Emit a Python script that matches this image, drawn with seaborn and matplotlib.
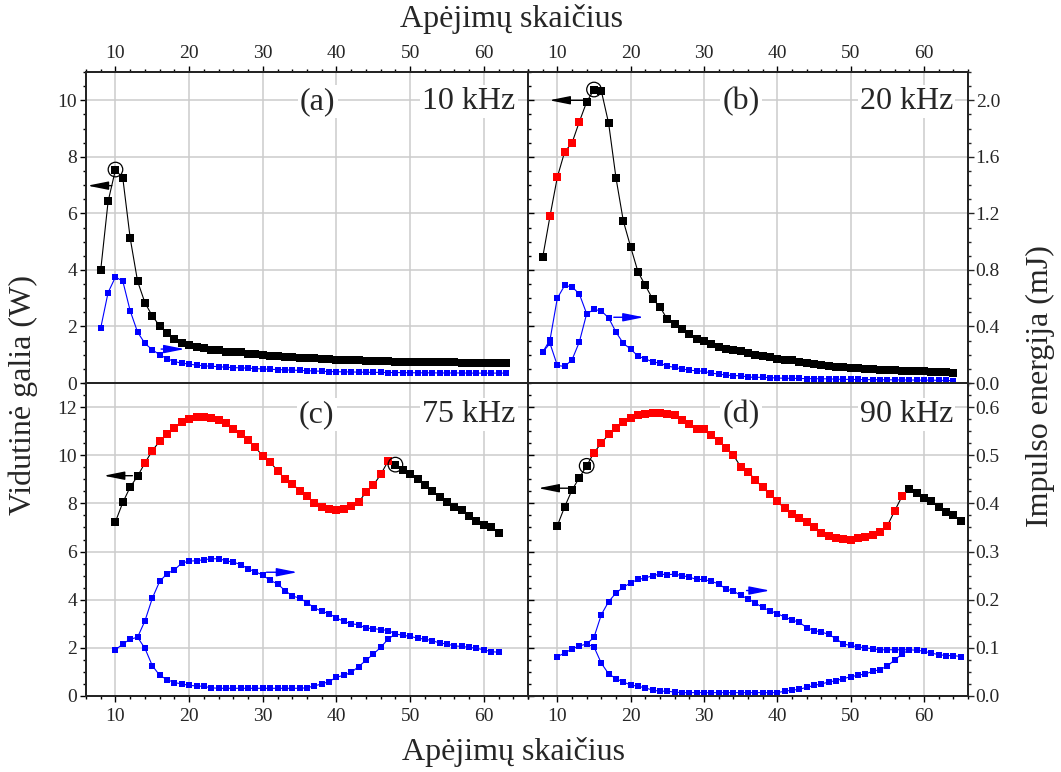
import numpy as np
import matplotlib
matplotlib.use("Agg")
import matplotlib.pyplot as plt
from matplotlib.ticker import MultipleLocator, FormatStrFormatter
import seaborn as sns

sns.set_style("ticks")
plt.rcParams["font.family"] = ["Liberation Serif", "DejaVu Serif"]

# ---------------- data ----------------
# (a) 10 kHz
a_x = np.arange(8, 64)
a_power = [4.00, 6.42, 7.55, 7.24, 5.12, 3.60, 2.84, 2.37, 2.02, 1.76,
           1.56, 1.43, 1.35, 1.29, 1.24, 1.17, 1.16, 1.11, 1.09, 1.08,
           1.04, 1.04, 0.99, 0.97, 0.95, 0.93, 0.92, 0.90, 0.88, 0.87,
           0.86, 0.84, 0.83, 0.82, 0.81, 0.80, 0.79, 0.78, 0.77, 0.77,
           0.76, 0.76, 0.75, 0.75, 0.74, 0.74, 0.73, 0.73, 0.73, 0.72,
           0.71, 0.71, 0.70, 0.70, 0.70, 0.70]
a_energy = [0.39, 0.64, 0.75, 0.72, 0.51, 0.36, 0.28, 0.235, 0.200, 0.172,
            0.152, 0.140, 0.134, 0.126, 0.122, 0.118, 0.116, 0.111, 0.109, 0.107,
            0.105, 0.102, 0.099, 0.097, 0.095, 0.093, 0.091, 0.089, 0.087, 0.085,
            0.083, 0.081, 0.080, 0.079, 0.078, 0.077, 0.076, 0.075, 0.075, 0.074,
            0.074, 0.073, 0.073, 0.072, 0.072, 0.072, 0.071, 0.071, 0.071, 0.071,
            0.070, 0.070, 0.070, 0.070, 0.070, 0.070]
a_red = []
a_peak = 10

# (b) 20 kHz
b_x = np.arange(8, 65)
b_power = [4.44, 5.90, 7.28, 8.18, 8.49, 9.24, 9.94, 10.38, 10.33, 9.18,
           7.25, 5.73, 4.81, 3.93, 3.45, 2.97, 2.69, 2.25, 2.09, 1.90,
           1.73, 1.57, 1.47, 1.37, 1.29, 1.22, 1.17, 1.13, 1.06, 0.99,
           0.96, 0.92, 0.86, 0.82, 0.80, 0.74, 0.69, 0.66, 0.63, 0.59,
           0.56, 0.55, 0.52, 0.52, 0.49, 0.49, 0.47, 0.46, 0.45, 0.42,
           0.42, 0.41, 0.41, 0.40, 0.40, 0.39, 0.36]
b_energy = [0.218, 0.305, 0.600, 0.690, 0.680, 0.630, 0.490, 0.520, 0.510, 0.460,
            0.360, 0.280, 0.240, 0.190, 0.170, 0.150, 0.140, 0.120, 0.110, 0.100,
            0.090, 0.087, 0.082, 0.070, 0.063, 0.056, 0.052, 0.052, 0.042, 0.040,
            0.040, 0.038, 0.035, 0.034, 0.033, 0.032, 0.031, 0.030, 0.030, 0.029,
            0.027, 0.026, 0.025, 0.025, 0.024, 0.024, 0.023, 0.023, 0.022, 0.022,
            0.021, 0.021, 0.020, 0.020, 0.019, 0.018, 0.017]
b_x2 = np.arange(8, 15)
b_energy2 = [0.218, 0.280, 0.124, 0.117, 0.164, 0.290, 0.490]
b_red = list(range(9, 14))
b_peak = 15

# (c) 75 kHz
c_x = np.arange(10, 63)
c_power = [7.24, 8.04, 8.68, 9.13, 9.68, 10.19, 10.58, 10.89, 11.14, 11.37,
           11.51, 11.60, 11.60, 11.53, 11.46, 11.32, 11.10, 10.89, 10.65, 10.33,
           9.96, 9.71, 9.36, 9.02, 8.81, 8.53, 8.29, 8.02, 7.85, 7.77,
           7.71, 7.78, 7.88, 8.04, 8.47, 8.75, 9.20, 9.75, 9.61, 9.38,
           9.22, 9.02, 8.75, 8.53, 8.25, 8.06, 7.84, 7.74, 7.49, 7.25,
           7.09, 7.00, 6.77]
c_energy = [0.096, 0.108, 0.118, 0.122, 0.156, 0.203, 0.238, 0.254, 0.262, 0.276,
            0.280, 0.281, 0.283, 0.285, 0.285, 0.281, 0.278, 0.273, 0.264, 0.258,
            0.251, 0.240, 0.233, 0.219, 0.208, 0.203, 0.194, 0.183, 0.176, 0.171,
            0.162, 0.155, 0.150, 0.148, 0.141, 0.140, 0.138, 0.136, 0.129, 0.126,
            0.124, 0.120, 0.118, 0.115, 0.110, 0.108, 0.104, 0.103, 0.101, 0.099,
            0.096, 0.092, 0.091]
c_x2 = np.arange(13, 49)
c_energy2 = [0.122, 0.099, 0.063, 0.043, 0.034, 0.028, 0.025, 0.022, 0.021, 0.020,
             0.017, 0.016, 0.016, 0.016, 0.016, 0.016, 0.016, 0.016, 0.016, 0.016,
             0.016, 0.016, 0.016, 0.017, 0.021, 0.025, 0.030, 0.039, 0.043, 0.049,
             0.061, 0.074, 0.087, 0.101, 0.118, 0.129]
c_red = list(range(14, 48))
c_peak = 48

# (d) 90 kHz
d_x = np.arange(10, 66)
d_power = [7.07, 7.86, 8.55, 9.07, 9.56, 10.11, 10.50, 10.87, 11.15, 11.38,
           11.53, 11.66, 11.70, 11.77, 11.77, 11.70, 11.69, 11.46, 11.28, 11.10,
           11.08, 10.84, 10.59, 10.32, 10.01, 9.52, 9.31, 8.98, 8.66, 8.38,
           8.08, 7.79, 7.56, 7.38, 7.21, 7.00, 6.75, 6.66, 6.56, 6.52,
           6.48, 6.56, 6.59, 6.70, 6.80, 7.07, 7.69, 8.29, 8.59, 8.45,
           8.22, 8.11, 7.86, 7.65, 7.53, 7.25]
d_energy = [0.082, 0.089, 0.098, 0.104, 0.108, 0.122, 0.169, 0.196, 0.214, 0.226,
            0.235, 0.242, 0.245, 0.250, 0.253, 0.252, 0.253, 0.250, 0.247, 0.242,
            0.242, 0.238, 0.233, 0.222, 0.218, 0.209, 0.202, 0.193, 0.184, 0.177,
            0.171, 0.164, 0.158, 0.153, 0.142, 0.136, 0.133, 0.128, 0.119, 0.108,
            0.105, 0.102, 0.100, 0.098, 0.096, 0.096, 0.096, 0.096, 0.096, 0.095,
            0.093, 0.089, 0.086, 0.084, 0.084, 0.082]
d_x2 = np.arange(14, 59)
d_energy2 = [0.108, 0.102, 0.068, 0.046, 0.036, 0.029, 0.023, 0.020, 0.017, 0.012,
             0.010, 0.010, 0.008, 0.007, 0.007, 0.007, 0.007, 0.007, 0.007, 0.007,
             0.007, 0.007, 0.007, 0.007, 0.007, 0.007, 0.007, 0.010, 0.012, 0.014,
             0.018, 0.022, 0.025, 0.029, 0.032, 0.036, 0.040, 0.043, 0.046, 0.051,
             0.055, 0.062, 0.075, 0.087, 0.096]
d_red = list(range(15, 58))
d_peak = 14

panel_tags = ["(a)", "(b)", "(c)", "(d)"]
panel_freqs = ["10 kHz", "20 kHz", "75 kHz", "90 kHz"]
x_label = "Apėjimų skaičius"
y_left_label = "Vidutinė galia (W)"
y_right_label = "Impulso energija (mJ)"

# ---------------- layout ----------------
W, H = 1061, 772
fig = plt.figure(figsize=(W / 100, H / 100), dpi=100)
xl, xm, xr = 86 / W, 528 / W, 968 / W
yt, ym, yb = 1 - 72 / H, 1 - 383 / H, 1 - 696 / H

ax_a = fig.add_axes([xl, ym, xm - xl, yt - ym])
ax_b = fig.add_axes([xm, ym, xr - xm, yt - ym])
ax_c = fig.add_axes([xl, yb, xm - xl, ym - yb])
ax_d = fig.add_axes([xm, yb, xr - xm, ym - yb])

BLUE = "#0000ff"
RED = "#ff0000"
GRID = "#cccccc"
TICK_FS = 14


def style_axis(ax, top_row, left_col, ymax, ymajor, yminor):
    ax.set_xlim(6, 66)
    ax.set_ylim(0, ymax)
    ax.xaxis.set_major_locator(MultipleLocator(10))
    ax.xaxis.set_minor_locator(MultipleLocator(2))
    ax.yaxis.set_major_locator(MultipleLocator(ymajor))
    ax.yaxis.set_minor_locator(MultipleLocator(yminor))
    ax.set_axisbelow(True)
    ax.grid(True, which="major", color=GRID, lw=1.1)
    for s in ax.spines.values():
        s.set_linewidth(1.4)
        s.set_color("black")
    ax.tick_params(which="both", width=1.0, color="black", labelsize=TICK_FS)
    ax.tick_params(which="major", length=4.5)
    ax.tick_params(which="minor", length=2.4)
    if top_row:
        ax.tick_params(axis="x", which="both", top=True, labeltop=True,
                       bottom=True, labelbottom=False, direction="out", pad=3)
    else:
        ax.tick_params(axis="x", which="both", bottom=True, labelbottom=True,
                       top=False, labeltop=False, direction="out", pad=4)
    if left_col:
        ax.tick_params(axis="y", which="both", left=True, labelleft=True,
                       right=True, labelright=False, direction="out", pad=2)
    else:
        ax.tick_params(axis="y", which="both", left=True, labelleft=False,
                       right=False, labelright=False, direction="in")
    ax.set_xlabel("")
    ax.set_ylabel("")


style_axis(ax_a, True, True, 11, 2, 0.5)
style_axis(ax_b, True, False, 11, 2, 0.5)
style_axis(ax_c, False, True, 13, 2, 0.5)
style_axis(ax_d, False, False, 13, 2, 0.5)

# energy axes
tw_a, tw_b = ax_a.twinx(), ax_b.twinx()
tw_c, tw_d = ax_c.twinx(), ax_d.twinx()
for tw, ymax, major, minor, show in [(tw_a, 2.2, 0.4, 0.1, False),
                                     (tw_b, 2.2, 0.4, 0.1, True),
                                     (tw_c, 0.65, 0.1, 0.025, False),
                                     (tw_d, 0.65, 0.1, 0.025, True)]:
    tw.set_ylim(0, ymax)
    tw.yaxis.set_major_locator(MultipleLocator(major))
    tw.yaxis.set_minor_locator(MultipleLocator(minor))
    tw.grid(False)
    for s in tw.spines.values():
        s.set_linewidth(1.4)
    if show:
        tw.tick_params(axis="y", which="both", right=True, labelright=True,
                       direction="out", width=1.0, labelsize=TICK_FS, pad=1)
        tw.tick_params(axis="y", which="major", length=4.5)
        tw.tick_params(axis="y", which="minor", length=2.4)
        tw.yaxis.set_major_formatter(FormatStrFormatter("%.1f"))
    else:
        tw.tick_params(axis="y", which="both", right=False, labelright=False)
    tw.set_ylabel("")

panels = [
    (ax_a, tw_a, a_x, a_power, a_energy, None, None, a_red, a_peak),
    (ax_b, tw_b, b_x, b_power, b_energy, b_x2, b_energy2, b_red, b_peak),
    (ax_c, tw_c, c_x, c_power, c_energy, c_x2, c_energy2, c_red, c_peak),
    (ax_d, tw_d, d_x, d_power, d_energy, d_x2, d_energy2, d_red, d_peak),
]

for ax, tw, x, p, e, x2, e2, red, peak in panels:
    sns.lineplot(x=x, y=p, ax=ax, color="black", lw=0.8, marker="s",
                 markersize=5.2, markeredgewidth=0, estimator=None, sort=False,
                 zorder=3)
    if red:
        xr_ = np.array(red)
        pr = np.array(p)[np.isin(x, xr_)]
        sns.scatterplot(x=xr_, y=pr, ax=ax, marker="s", color=RED, s=28,
                        linewidth=0, zorder=4)
    k = list(x).index(peak)
    ax.scatter([peak], [p[k]], s=110, facecolors="none", edgecolors="black",
               linewidths=0.9, zorder=5)
    sns.lineplot(x=x, y=e, ax=tw, color=BLUE, lw=0.8, marker="s",
                 markersize=4.8, markeredgewidth=0, estimator=None, sort=False)
    if x2 is not None:
        sns.lineplot(x=x2, y=e2, ax=tw, color=BLUE, lw=0.8, marker="s",
                     markersize=4.8, markeredgewidth=0, estimator=None,
                     sort=False)
    tw.set_ylabel("")
    ax.set_ylabel("")

# direction arrows: power -> left axis, energy -> right axis
arrow_kw = dict(arrowstyle="-|>,head_length=0.9,head_width=0.18",
                lw=1.0, mutation_scale=14, shrinkA=0, shrinkB=0)
arrows = [
    (ax_a, (9.5, 6.98), (6.2, 6.98), "black"),
    (tw_a, (16.2, 0.24), (19.4, 0.24), BLUE),
    (ax_b, (13.7, 10.0), (8.9, 10.0), "black"),
    (tw_b, (17.7, 0.465), (21.8, 0.465), BLUE),
    (ax_c, (12.3, 9.15), (8.4, 9.15), "black"),
    (tw_c, (30.5, 0.257), (34.7, 0.257), BLUE),
    (ax_d, (11.6, 8.63), (7.4, 8.63), "black"),
    (tw_d, (35.8, 0.219), (39.0, 0.219), BLUE),
]
for ax, tail, head, col in arrows:
    ax.annotate("", xy=head, xytext=tail,
                arrowprops=dict(color=col, **arrow_kw), zorder=6)

# panel tags and repetition rates
tag_pos = [(0.524, 0.905), (0.484, 0.905), (0.522, 0.90), (0.484, 0.90)]
freq_pos = [(0.972, 0.905), (0.966, 0.905), (0.972, 0.90), (0.966, 0.90)]
box = dict(facecolor="white", edgecolor="none", pad=1.5)
for ax, tag, fq, tp, fp in zip([ax_a, ax_b, ax_c, ax_d], panel_tags,
                               panel_freqs, tag_pos, freq_pos):
    ax.text(tp[0], tp[1], tag, transform=ax.transAxes, ha="center",
            va="center", fontsize=23, bbox=box, zorder=7)
    ax.text(fp[0], fp[1], fq, transform=ax.transAxes, ha="right",
            va="center", fontsize=23, bbox=box, zorder=7)

fig.text(512 / W, 1 - 19 / H, x_label, ha="center", va="center", fontsize=23)
fig.text(513 / W, 1 - 752 / H, x_label, ha="center", va="center", fontsize=23)
fig.text(23 / W, 1 - 395 / H, y_left_label, ha="center", va="center",
         rotation=90, fontsize=23)
fig.text(1040 / W, 1 - 386 / H, y_right_label, ha="center", va="center",
         rotation=90, fontsize=23)

fig.savefig("out.png", dpi=100)
